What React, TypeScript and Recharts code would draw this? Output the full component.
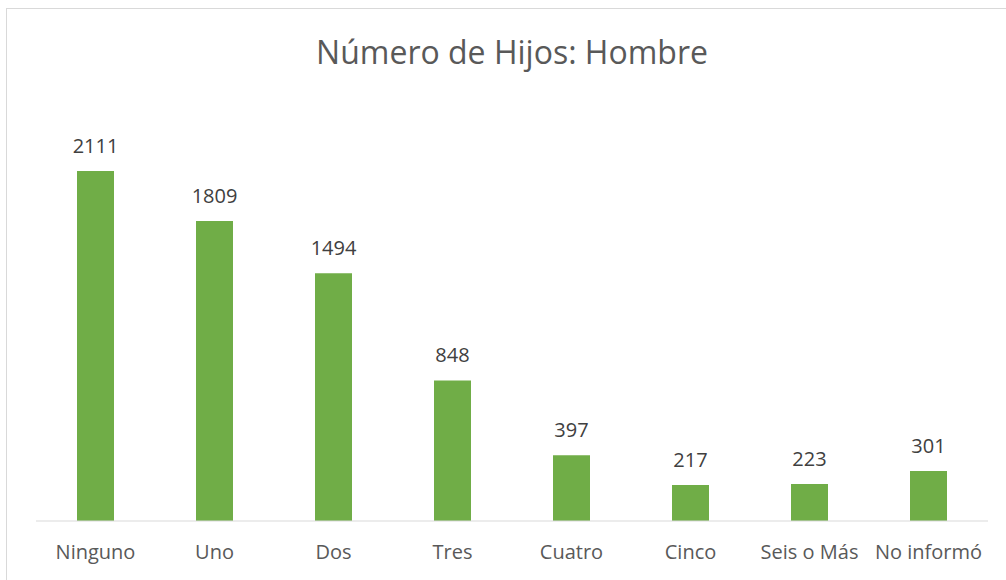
import { Bar, BarChart, XAxis, YAxis, LabelList } from "recharts";

const CATEGORIES = ["Ninguno", "Uno", "Dos", "Tres", "Cuatro", "Cinco", "Seis o Más", "No informó"];
const HOMBRES = [2111, 1809, 1494, 848, 397, 217, 223, 301];

const FONT = "'Open Sans', 'Noto Sans', sans-serif";

export default function App() {
  const data = CATEGORIES.map((name, i) => ({ name, value: HOMBRES[i] }));

  return (
    <div style={{ position: "absolute", left: 0, top: 0, width: 1006, height: 580, overflow: "hidden", background: "#fff", fontFamily: FONT }}>
      {/* chart frame, cut off at the right and bottom like the source */}
      <div style={{ position: "absolute", left: 6, top: 8, width: 1020, height: 600, border: "1px solid #d9d9d9" }} />
      <div
        style={{
          position: "absolute",
          left: 0,
          top: 32,
          width: 1024,
          textAlign: "center",
          fontSize: 32,
          color: "#595959",
          lineHeight: "40px",
        }}
      >
        Número de Hijos: Hombre
      </div>
      <div style={{ position: "absolute", left: 0, top: 0 }}>
        <BarChart width={1006} height={580} data={data} margin={{ top: 106.5, right: 18, left: 36, bottom: 0 }} barSize={37}>
          <XAxis
            dataKey="name"
            height={59}
            axisLine={{ stroke: "#d9d9d9" }}
            tickLine={false}
            tickMargin={18}
            interval={0}
            tick={{ fill: "#595959", fontSize: 20, fontFamily: FONT }}
          />
          <YAxis hide domain={[0, 2500]} />
          <Bar dataKey="value" fill="#70ad47" isAnimationActive={false}>
            <LabelList dataKey="value" position="top" offset={18} fill="#404040" fontSize={20} fontFamily={FONT} />
          </Bar>
        </BarChart>
      </div>
    </div>
  );
}
